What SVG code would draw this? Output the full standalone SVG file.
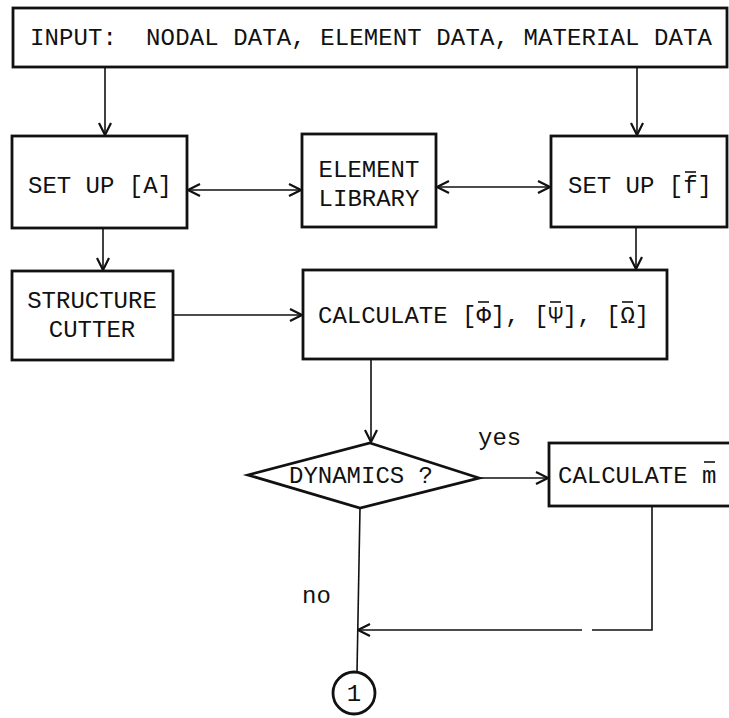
<svg xmlns="http://www.w3.org/2000/svg" width="729" height="718" viewBox="0 0 729 718">
<defs>
<marker id="ah" viewBox="0 0 14 14" refX="13" refY="7" markerWidth="14" markerHeight="14" markerUnits="userSpaceOnUse" orient="auto-start-reverse">
<path d="M1,1 L13,7 L1,13" fill="none" stroke="#111" stroke-width="2.2"/>
</marker>
</defs>
<style>
.box{fill:#fff;stroke:#111;stroke-width:2.8}
.t{font-family:"Liberation Mono","DejaVu Sans Mono",monospace;font-size:24px;fill:#111}
.c{fill:none;stroke:#111;stroke-width:1.6}
.bar{stroke:#111;stroke-width:1.6}
</style>
<rect width="729" height="718" fill="#fff"/>
<g id="connectors">
<path class="c" d="M105,67 V135" marker-end="url(#ah)"/>
<path class="c" d="M637,67 V135" marker-end="url(#ah)"/>
<path class="c" d="M188,190 H301" marker-start="url(#ah)" marker-end="url(#ah)"/>
<path class="c" d="M437,187 H550" marker-start="url(#ah)" marker-end="url(#ah)"/>
<path class="c" d="M103,228 V270" marker-end="url(#ah)"/>
<path class="c" d="M636,227 V269" marker-end="url(#ah)"/>
<path class="c" d="M173,315 H302" marker-end="url(#ah)"/>
<path class="c" d="M371,359 V442" marker-end="url(#ah)"/>
<path class="c" d="M479,478 H548" marker-end="url(#ah)"/>
<path class="c" d="M360,508 L357,672"/>
<path class="c" d="M652,506 V630 H592"/>
<path class="c" d="M582,630 H358" marker-end="url(#ah)"/>
</g>
<g id="input">
<rect class="box" x="13" y="8" width="714" height="59"/>
<text class="t" x="30" y="45" textLength="682" lengthAdjust="spacing" xml:space="preserve">INPUT:  NODAL DATA, ELEMENT DATA, MATERIAL DATA</text>
</g>
<g id="setupA">
<rect class="box" x="12" y="136" width="175" height="92"/>
<text class="t" x="28" y="193">SET UP [A]</text>
</g>
<g id="library">
<rect class="box" x="302" y="134" width="134" height="93"/>
<text class="t" x="369" y="177" text-anchor="middle">ELEMENT</text>
<text class="t" x="369" y="206" text-anchor="middle">LIBRARY</text>
</g>
<g id="setupF">
<rect class="box" x="551" y="136" width="176" height="91"/>
<text class="t" x="568" y="193">SET UP [f]</text>
<line class="bar" x1="685" y1="172" x2="696" y2="172"/>
</g>
<g id="cutter">
<rect class="box" x="12" y="271" width="161" height="89"/>
<text class="t" x="92" y="308" text-anchor="middle">STRUCTURE</text>
<text class="t" x="92" y="337" text-anchor="middle">CUTTER</text>
</g>
<g id="calc">
<rect class="box" x="303" y="270" width="364" height="89"/>
<text class="t" x="318" y="323">CALCULATE [Φ], [Ψ], [Ω]</text>
<line class="bar" x1="478" y1="302" x2="489" y2="302"/>
<line class="bar" x1="550" y1="302" x2="561" y2="302"/>
<line class="bar" x1="622" y1="302" x2="633" y2="302"/>
</g>
<g id="dynamics">
<path class="box" d="M370,443 L479,478 L360,508 L248,475 Z"/>
<text class="t" x="289" y="483">DYNAMICS ?</text>
<text class="t" x="478" y="445">yes</text>
<text class="t" x="302" y="603">no</text>
</g>
<g id="calcm">
<rect class="box" x="549" y="443" width="190" height="63"/>
<text class="t" x="558" y="483">CALCULATE m</text>
<line class="bar" x1="704" y1="462" x2="715" y2="462"/>
</g>
<g id="connector1">
<circle class="box" cx="354" cy="693" r="21"/>
<text class="t" x="354" y="701" text-anchor="middle" font-family="Liberation Serif">1</text>
</g>
</svg>
